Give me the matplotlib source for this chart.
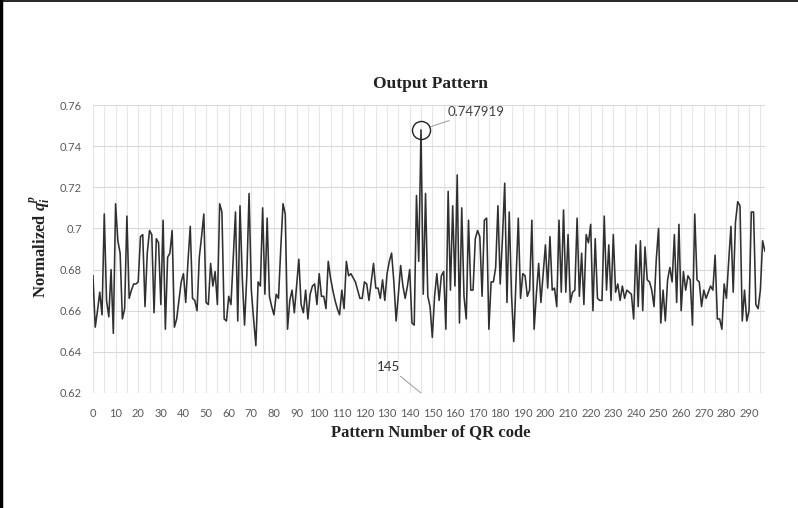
import matplotlib
matplotlib.use("Agg")
import matplotlib.pyplot as plt
from matplotlib.lines import Line2D
from matplotlib.ticker import MultipleLocator, FuncFormatter

# ---- data ----
values_000_049 = [0.677, 0.652, 0.660, 0.669, 0.658, 0.707, 0.665, 0.657, 0.680, 0.649,
                  0.712, 0.694, 0.688, 0.656, 0.661, 0.706, 0.666, 0.670, 0.673, 0.673,
                  0.674, 0.696, 0.697, 0.662, 0.688, 0.699, 0.697, 0.659, 0.695, 0.693,
                  0.663, 0.704, 0.651, 0.686, 0.688, 0.699, 0.652, 0.656, 0.665, 0.674,
                  0.678, 0.664, 0.684, 0.701, 0.666, 0.665, 0.660, 0.686, 0.696, 0.707]
values_050_099 = [0.664, 0.663, 0.683, 0.672, 0.679, 0.663, 0.712, 0.708, 0.656, 0.655,
                  0.667, 0.663, 0.686, 0.708, 0.655, 0.711, 0.676, 0.653, 0.677, 0.717,
                  0.670, 0.656, 0.643, 0.674, 0.672, 0.710, 0.668, 0.705, 0.667, 0.662,
                  0.658, 0.668, 0.666, 0.690, 0.712, 0.707, 0.651, 0.665, 0.670, 0.659,
                  0.672, 0.685, 0.663, 0.659, 0.670, 0.656, 0.668, 0.672, 0.673, 0.663]
values_100_149 = [0.678, 0.667, 0.667, 0.661, 0.684, 0.676, 0.670, 0.665, 0.661, 0.658,
                  0.670, 0.661, 0.684, 0.677, 0.678, 0.676, 0.674, 0.670, 0.666, 0.666,
                  0.674, 0.673, 0.665, 0.674, 0.683, 0.671, 0.671, 0.666, 0.675, 0.665,
                  0.678, 0.684, 0.688, 0.674, 0.655, 0.668, 0.682, 0.672, 0.666, 0.672,
                  0.680, 0.654, 0.653, 0.716, 0.684, 0.747919, 0.668, 0.717, 0.667, 0.662]
values_150_199 = [0.647, 0.667, 0.678, 0.665, 0.677, 0.679, 0.651, 0.718, 0.670, 0.711,
                  0.672, 0.726, 0.654, 0.710, 0.667, 0.656, 0.704, 0.670, 0.670, 0.695,
                  0.699, 0.696, 0.667, 0.704, 0.705, 0.651, 0.674, 0.674, 0.681, 0.711,
                  0.673, 0.695, 0.722, 0.664, 0.708, 0.668, 0.645, 0.675, 0.705, 0.666,
                  0.678, 0.677, 0.667, 0.670, 0.704, 0.651, 0.668, 0.683, 0.664, 0.678]
values_200_249 = [0.692, 0.671, 0.696, 0.670, 0.671, 0.662, 0.704, 0.669, 0.709, 0.669,
                  0.697, 0.664, 0.669, 0.670, 0.705, 0.667, 0.688, 0.663, 0.697, 0.693,
                  0.702, 0.660, 0.695, 0.666, 0.665, 0.665, 0.706, 0.670, 0.692, 0.665,
                  0.697, 0.669, 0.673, 0.665, 0.672, 0.666, 0.670, 0.669, 0.668, 0.656,
                  0.692, 0.662, 0.694, 0.660, 0.691, 0.675, 0.674, 0.670, 0.662, 0.685]
values_250_297 = [0.700, 0.654, 0.670, 0.655, 0.675, 0.681, 0.674, 0.697, 0.664, 0.702,
                  0.660, 0.679, 0.670, 0.677, 0.675, 0.653, 0.707, 0.675, 0.674, 0.662,
                  0.670, 0.666, 0.669, 0.672, 0.670, 0.687, 0.656, 0.656, 0.651, 0.673,
                  0.666, 0.684, 0.701, 0.669, 0.703, 0.713, 0.711, 0.655, 0.670, 0.655,
                  0.660, 0.708, 0.708, 0.663, 0.661, 0.670, 0.694, 0.689]

values = (values_000_049 + values_050_099 + values_100_149 +
          values_150_199 + values_200_249 + values_250_297)
pattern_numbers = list(range(len(values)))

peak_index = 145
peak_value = 0.747919

title = "Output Pattern"
x_label = "Pattern Number of QR code"
y_label = r"Normalized $\mathbf{q}_{\mathbf{i}}^{\mathbf{p}}$"
y_ticks = [0.62, 0.64, 0.66, 0.68, 0.70, 0.72, 0.74, 0.76]
x_ticks = list(range(0, 291, 10))

# ---- figure ----
plt.rcParams['mathtext.fontset'] = 'custom'
plt.rcParams['mathtext.bf'] = 'Liberation Serif:bold:italic'
plt.rcParams['mathtext.rm'] = 'Liberation Serif'
plt.rcParams['mathtext.it'] = 'Liberation Serif:italic'
fig = plt.figure(figsize=(7.98, 5.08), dpi=100)
fig.patch.set_facecolor('white')
ax = fig.add_axes([0.1165, 0.2264, 0.842, 0.5669])

ax.plot(pattern_numbers, values, color='#303030', lw=1.15, zorder=3)

ax.set_xlim(0, len(values) - 1)
ax.set_ylim(0.62, 0.76)
ax.set_yticks(y_ticks)
ax.yaxis.set_major_formatter(FuncFormatter(lambda v, p: f"{v:g}"))
ax.set_xticks(x_ticks)
ax.set_xticklabels([str(t) for t in x_ticks])
ax.xaxis.set_minor_locator(MultipleLocator(5))

ax.grid(True, which='both', axis='x', color='#e6e6e6', lw=0.8, zorder=0)
ax.grid(True, which='major', axis='y', color='#d9d9d9', lw=0.8, zorder=0)
for s in ax.spines.values():
    s.set_visible(False)
ax.tick_params(axis='both', which='both', length=0, labelsize=8,
               labelcolor='#595959')
ax.tick_params(axis='x', pad=11)
ax.tick_params(axis='y', pad=8)
for lab in ax.get_xticklabels() + ax.get_yticklabels():
    lab.set_fontfamily('Lato')

fig.text(0.54, 0.834, title, ha='center', va='center', fontsize=12.5,
         fontweight='bold', family='Liberation Serif', color='#222222')
fig.text(0.54, 0.150, x_label, ha='center', va='center', fontsize=12,
         fontweight='bold', family='Liberation Serif', color='#222222')
fig.text(0.05, 0.515, y_label, ha='center', va='center', rotation=90,
         fontsize=12, fontweight='bold', family='Liberation Serif', color='#222222')

# peak marker and annotations
ax.plot([peak_index], [peak_value], marker='o', markersize=13,
        markerfacecolor='none', markeredgecolor='#222222', markeredgewidth=1.0, zorder=4)
ax.annotate(f"{peak_value:g}", xy=(peak_index, peak_value), xytext=(19, 13),
            textcoords='offset points', ha='left', va='center', fontsize=9.5,
            family='Lato', color='#404040',
            arrowprops=dict(arrowstyle='-', color='#9a9a9a', lw=0.7,
                            shrinkA=0, shrinkB=7))
ax.annotate(str(peak_index), xy=(peak_index, 0.62), xytext=(-15, 19),
            textcoords='offset points', ha='right', va='center', fontsize=9.5,
            family='Lato', color='#303030',
            arrowprops=dict(arrowstyle='-', color='#9a9a9a', lw=0.7,
                            shrinkA=1, shrinkB=0))

# frame lines of the original image
fig.add_artist(Line2D([0.0015, 0.0015], [0, 1], transform=fig.transFigure,
                      color='black', lw=2.5))
fig.add_artist(Line2D([0, 1], [0.998, 0.998], transform=fig.transFigure,
                      color='black', lw=1.2))

fig.savefig('out.png', dpi=100, facecolor='white')
